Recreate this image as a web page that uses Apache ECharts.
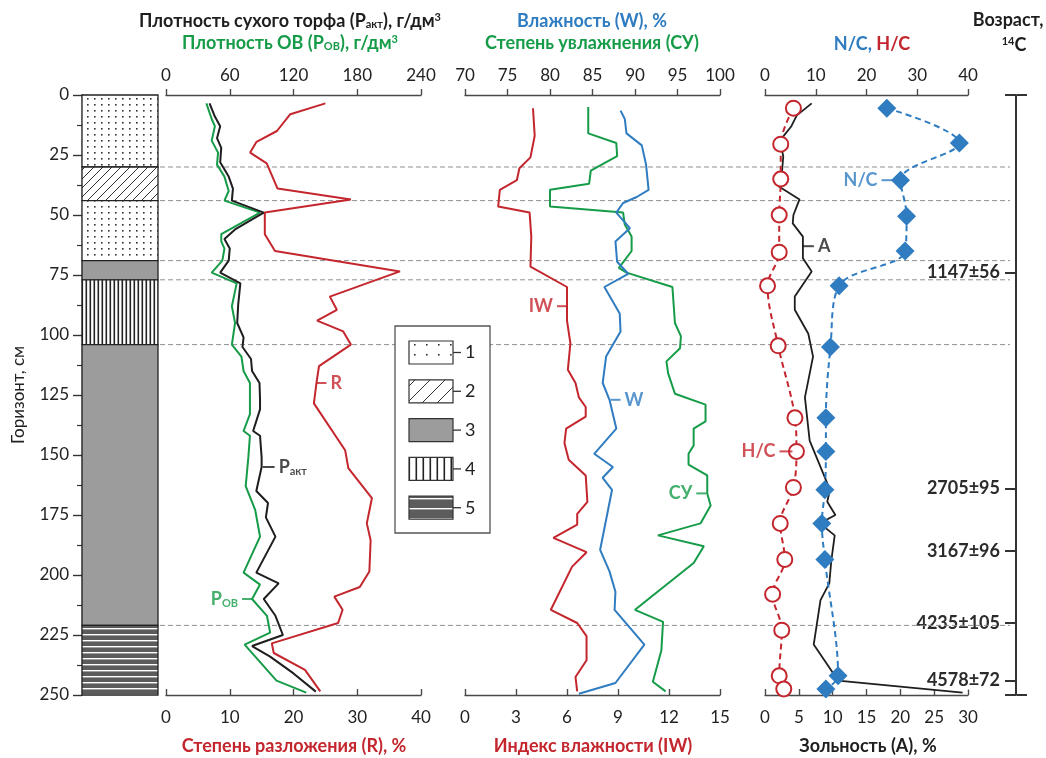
<!DOCTYPE html>
<html><head><meta charset="utf-8">
<script src="https://cdn.jsdelivr.net/npm/echarts@6/dist/echarts.min.js"></script>
<style>html,body{margin:0;padding:0;background:#fff}#c{width:1046px;height:758px}</style>
</head><body><div id="c"></div>
<script>
// ---------------- DATA ----------------
const depthMin = 0, depthMax = 250, depthStep = 25;
const layerTop    = [0, 30, 44, 69, 77, 104, 221];
const layerBottom = [30, 44, 69, 77, 104, 221, 250];
const layerType   = [1, 2, 1, 3, 4, 3, 5];
const boundaryDepth = [30, 44, 69, 77, 104, 221];
const legendTypes = [1, 2, 3, 4, 5];

const pactDepth = [3.5, 9, 13, 18, 22, 28, 34, 39, 44, 49, 56, 60, 64, 69, 74, 78.5, 87, 95, 101, 105, 110, 115, 120, 127, 131, 140, 142, 151, 155, 165, 170, 176, 184, 199, 203.5, 210, 217, 225, 229.6, 234, 241, 248.6];
const pactVal   = [41, 46, 51, 48, 52, 51, 59, 63, 62, 92, 65, 55, 60, 59, 51, 70, 68, 67, 73, 72, 80, 81, 88, 88.5, 88.5, 82, 88.5, 90, 90, 85, 96, 94, 103, 85, 106, 92, 103, 110, 81, 98, 120, 141];

const pobDepth = [3.5, 10, 13, 19, 24, 29, 34, 40, 44, 49, 58, 61, 64, 69, 74, 78.5, 88, 95, 104, 109, 115, 120, 127, 133, 140, 142, 151, 163, 173, 184, 199, 204, 210, 217, 224, 229, 244, 249];
const pobVal   = [38, 43, 46, 43, 49, 48, 55, 59, 55, 88.5, 52, 52, 55, 53, 43, 66.5, 62, 65, 62, 71, 73, 79, 79, 79, 73, 79, 77.5, 75, 84, 88.5, 73, 88.5, 81, 95, 98, 74, 104, 132];

const rDepth = [3.5, 8, 15, 19.5, 24, 28.5, 39, 43.5, 49, 58, 65, 73.5, 84, 89.5, 94, 98.5, 104, 113, 120, 128.5, 148, 155.5, 168, 178.5, 185.5, 198.5, 205, 209, 214.5, 220, 228.5, 232.5, 239.5, 248.5];
const rVal   = [25, 19.5, 17.4, 14.2, 13.2, 15.8, 17.5, 29, 15.5, 15.5, 17.1, 36.7, 25.7, 26.8, 23.7, 27.8, 29, 24, 23.6, 23.2, 28.1, 28.6, 32.3, 31.5, 32.1, 31.9, 30.4, 26.4, 27.7, 27, 16.6, 16.9, 21.8, 24.2];

const iwDepth = [5.5, 17, 26, 30.5, 35.5, 39.5, 46.5, 49, 59, 71.5, 80, 88, 94, 103.5, 114.5, 120, 126, 130, 134, 139, 145, 152, 158.5, 169.5, 174.5, 179, 184.5, 190.5, 196.5, 214.5, 220, 225.5, 235.5, 242.5, 248.5];
const iwVal   = [4.0, 4.1, 3.85, 3.2, 3.05, 2.05, 1.95, 3.8, 3.9, 3.85, 6.0, 6.0, 6.0, 6.2, 6.05, 6.5, 6.7, 7.1, 7.1, 5.95, 5.85, 6.1, 7.1, 7.2, 6.6, 6.6, 5.2, 7.15, 6.3, 5.05, 6.6, 7.15, 7.15, 6.5, 6.6];

const suDepth = [5, 16, 20, 25.5, 31.5, 37, 39.5, 46.5, 49, 54, 59, 65, 72, 74, 80, 95, 100.5, 105.5, 111, 116, 124.5, 129, 136, 139, 146, 149.5, 154, 158.5, 166, 171, 178.5, 183.5, 188, 195, 214.5, 219.5, 231.5, 244.5, 248.5];
const suVal   = [84.5, 84.5, 87.8, 87.9, 84.8, 84.6, 80, 80, 88.6, 88.8, 89.6, 89.6, 88.1, 89, 94.4, 94.7, 95.4, 95.3, 93.7, 93.9, 94.7, 98.3, 98.3, 96.9, 96.9, 96.3, 96.3, 98.5, 98.5, 98.9, 97.7, 92.7, 98.1, 96.9, 90, 93.3, 93.1, 92.1, 93.6];

const wDepth = [6.5, 10, 16, 21, 29, 39.5, 42.5, 45, 49, 55.5, 61, 69.5, 74.5, 80, 91, 98.5, 109, 120, 127, 139, 149.5, 155, 159.5, 164.5, 189.5, 198.5, 207, 214.5, 229, 245, 249.5];
const wVal   = [88.3, 88.8, 89, 90.8, 91.3, 91.6, 90.2, 88.6, 87.8, 89.4, 87.7, 87.9, 89.2, 86.4, 88.2, 88.3, 86.6, 86.2, 87, 87.8, 85.2, 87.4, 86.2, 87.3, 85.9, 87, 87.7, 87.6, 91.1, 87.7, 83.4];

const hcDepth = [5.5, 20.5, 35, 50, 65.5, 79.5, 104.5, 134.5, 148.5, 163.5, 178.5, 193.5, 208, 223, 242, 247.5];
const hcVal   = [5.6, 3.1, 3.1, 2.8, 2.8, 0.5, 2.6, 5.9, 6.2, 5.6, 3.0, 3.9, 1.5, 3.3, 2.8, 3.7];

const ncDepth = [5.5, 20, 35.5, 50.5, 65, 79.5, 105, 134.5, 148.5, 164.5, 178.5, 193.5, 242, 247.5];
const ncVal   = [24.0, 38.3, 26.7, 27.9, 27.6, 14.6, 12.9, 12.0, 12.0, 11.8, 11.2, 11.8, 14.4, 12.0];

const aDepth = [3.5, 8.5, 13, 19, 25.5, 32.5, 38, 43.5, 50, 53.5, 59, 63, 68, 73.5, 84, 89.5, 99.5, 109, 126, 144, 164.5, 169.5, 175, 178.5, 183.5, 194, 203.5, 210.5, 229, 244, 249];
const aVal   = [6.9, 4.7, 3.9, 2.2, 2.7, 2.5, 2.0, 5.1, 4.2, 4.1, 5.6, 5.6, 5.6, 6.9, 4.4, 4.4, 6.4, 7.1, 5.9, 6.6, 9.6, 9.2, 10.4, 8.1, 10.3, 9.8, 9.5, 8.2, 7.2, 10.8, 29.2];

const ageDepth = [74, 164, 190, 220, 244];
const ageLabel = ['1147±56', '2705±95', '3167±96', '4235±105', '4578±72'];

// ---------------- STYLE ----------------
const FONT = 'Lato, "Open Sans", sans-serif';
const RED = '#c4262e', GREEN = '#169c48', BLUE = '#2f7cc1', BLACK = '#1e1e1e', AX = '#4a4a4a';

// scale: 1 = column, 1.7 = legend swatches (coarser, as in the reference)
function makePattern(t, k) {
  const c = document.createElement('canvas');
  let ctx;
  if (t === 1) {
    const w = Math.round(7 * k), h = Math.round(6 * k);
    c.width = w; c.height = h; ctx = c.getContext('2d');
    ctx.fillStyle = '#fff'; ctx.fillRect(0, 0, w, h);
    ctx.fillStyle = '#333'; ctx.fillRect(Math.floor(w / 2), Math.floor(h / 2) - 1, 1.6, 1.6);
  } else if (t === 2) {
    const s = Math.round(9 * k);
    c.width = s; c.height = s; ctx = c.getContext('2d');
    ctx.fillStyle = '#fff'; ctx.fillRect(0, 0, s, s);
    ctx.strokeStyle = '#333'; ctx.lineWidth = 1;
    ctx.beginPath();
    ctx.moveTo(-1, s + 1); ctx.lineTo(s + 1, -1);
    ctx.moveTo(-1, 1); ctx.lineTo(1, -1);
    ctx.moveTo(s - 1, s + 1); ctx.lineTo(s + 1, s - 1);
    ctx.stroke();
  } else if (t === 3) {
    c.width = 4; c.height = 4; ctx = c.getContext('2d');
    ctx.fillStyle = '#9c9c9c'; ctx.fillRect(0, 0, 4, 4);
  } else if (t === 4) {
    const w = Math.round(4 * k);
    c.width = w; c.height = 4; ctx = c.getContext('2d');
    ctx.fillStyle = '#fff'; ctx.fillRect(0, 0, w, 4);
    ctx.fillStyle = '#222'; ctx.fillRect(Math.floor(w / 2) - 0.5, 0, 1.6, 4);
  } else {
    const h = Math.round(6 * k);
    c.width = 4; c.height = h; ctx = c.getContext('2d');
    ctx.fillStyle = '#5c5c5c'; ctx.fillRect(0, 0, 4, h);
    ctx.fillStyle = '#fff'; ctx.fillRect(0, h - 2, 4, 1.4);
  }
  return c;
}
const patterns = {}, legendPatterns = {};
[1, 2, 3, 4, 5].forEach(t => { patterns[t] = makePattern(t, 1); legendPatterns[t] = makePattern(t, 1.7); });
const pat = t => ({ image: patterns[t], repeat: 'repeat' });
const lpat = t => ({ image: legendPatterns[t], repeat: 'repeat' });

const pairs = (xs, ds) => ds.map((d, i) => [xs[i], d]);

const gridBase = { top: 95, height: 600, outerBoundsMode: 'none', containLabel: false };
const grids = [
  Object.assign({ left: 82, width: 76 }, gridBase),
  Object.assign({ left: 166, width: 255 }, gridBase),
  Object.assign({ left: 465, width: 255 }, gridBase),
  Object.assign({ left: 765, width: 203 }, gridBase),
  Object.assign({ left: 1016, width: 1 }, gridBase),
  Object.assign({ left: 160, width: 850 }, gridBase)
];

const hiddenX = g => ({ type: 'value', gridIndex: g, min: 0, max: 1, show: false });
function topAxis(g, min, max, step) {
  return {
    type: 'value', gridIndex: g, position: 'top', min: min, max: max, interval: step,
    axisLine: { show: true, lineStyle: { color: AX, width: 1.4 } },
    axisTick: { show: true, length: 6, lineStyle: { color: AX, width: 1.4 } },
    axisLabel: { margin: 11, fontSize: 17, color: '#222', fontFamily: FONT },
    splitLine: { show: false }
  };
}
function bottomAxis(g, min, max, step) {
  return {
    type: 'value', gridIndex: g, position: 'bottom', min: min, max: max, interval: step,
    axisLine: { show: true, lineStyle: { color: AX, width: 1.4 } },
    axisTick: { show: true, inside: true, length: 6, lineStyle: { color: AX, width: 1.4 } },
    axisLabel: { margin: 14, fontSize: 17, color: '#222', fontFamily: FONT },
    splitLine: { show: false }
  };
}
const hiddenY = g => ({ type: 'value', gridIndex: g, min: depthMin, max: depthMax, inverse: true, show: false });

const xAxes = [
  hiddenX(0),
  topAxis(1, 0, 240, 60), bottomAxis(1, 0, 40, 10),
  topAxis(2, 70, 100, 5), bottomAxis(2, 0, 15, 3),
  topAxis(3, 0, 40, 10), bottomAxis(3, 0, 30, 5),
  hiddenX(4), hiddenX(5)
];
const yAxes = [
  {
    type: 'value', gridIndex: 0, min: depthMin, max: depthMax, interval: depthStep, inverse: true, position: 'left',
    axisLine: { show: true, lineStyle: { color: '#333', width: 1.4 } },
    axisTick: { show: true, length: 9, lineStyle: { color: '#333', width: 1.4 } },
    minorTick: { show: true, splitNumber: 2, length: 5, lineStyle: { color: '#333', width: 1.2 } },
    axisLabel: { margin: 13, fontSize: 17, color: '#222', fontFamily: FONT },
    splitLine: { show: false }
  },
  hiddenY(1), hiddenY(2), hiddenY(3),
  {
    type: 'value', gridIndex: 4, min: depthMin, max: depthMax, inverse: true, position: 'left',
    axisLine: { show: true, lineStyle: { color: '#333', width: 2 } },
    axisTick: { show: true, length: 11, customValues: [depthMin].concat(ageDepth, [depthMax]), lineStyle: { color: '#333', width: 2 } },
    axisLabel: {
      show: true, customValues: ageDepth, margin: 14, fontSize: 18, fontWeight: 'bold', color: '#2b2b2b', fontFamily: FONT,
      backgroundColor: '#fff', padding: [0, 2],
      formatter: v => ageLabel[ageDepth.indexOf(v)]
    },
    splitLine: { show: false }
  },
  {
    type: 'value', gridIndex: 4, min: depthMin, max: depthMax, inverse: true, position: 'right',
    axisLine: { show: false },
    axisTick: { show: true, length: 10, customValues: [depthMin, depthMax], lineStyle: { color: '#333', width: 2 } },
    axisLabel: { show: false }, splitLine: { show: false }
  },
  hiddenY(5)
];

function lineSeries(name, xi, yi, xs, ds, color, extra) {
  return Object.assign({
    name: name, type: 'line', xAxisIndex: xi, yAxisIndex: yi, data: pairs(xs, ds),
    showSymbol: false, symbol: 'none', silent: true, animation: false,
    lineStyle: { color: color, width: 2 }, z: 3
  }, extra || {});
}

function annot(xi, yi, xs, ds, depth, color, side, lead, gap, text, rich) {
  const i = ds.indexOf(depth);
  return {
    type: 'scatter', xAxisIndex: xi, yAxisIndex: yi, silent: true, animation: false, z: 6,
    data: [[xs[i], ds[i]]],
    symbol: 'rect', symbolSize: [lead, 2], symbolOffset: [side * (gap + lead / 2), 0],
    itemStyle: { color: color },
    label: {
      show: true, position: side > 0 ? 'right' : 'left', distance: 4,
      formatter: text, color: color, fontSize: 18, fontWeight: 'bold', fontFamily: FONT,
      rich: rich || {}
    }
  };
}
const subRich = color => ({
  b: { fontSize: 18, fontWeight: 'bold', color: color, fontFamily: FONT, lineHeight: 22, verticalAlign: 'middle' },
  s: { fontSize: 11, fontWeight: 'bold', color: color, fontFamily: FONT, lineHeight: 22, verticalAlign: 'bottom', padding: [0, 0, 1, 0] }
});

const series = [
  {
    type: 'custom', xAxisIndex: 8, yAxisIndex: 6, silent: true, animation: false, z: 1,
    data: boundaryDepth.map(d => [d]),
    renderItem: function (params, api) {
      const d = api.value(0);
      const p1 = api.coord([0, d]), p2 = api.coord([1, d]);
      return { type: 'line', shape: { x1: p1[0], y1: p1[1], x2: p2[0], y2: p2[1] },
        style: { stroke: '#8f8f8f', lineWidth: 1, lineDash: [5, 3] } };
    }
  },
  {
    type: 'custom', xAxisIndex: 0, yAxisIndex: 0, silent: true, animation: false, z: 2,
    data: layerTop.map((t, i) => [t, layerBottom[i], layerType[i]]),
    renderItem: function (params, api) {
      const p1 = api.coord([0, api.value(0)]), p2 = api.coord([1, api.value(1)]);
      return { type: 'rect', shape: { x: p1[0], y: p1[1], width: p2[0] - p1[0], height: p2[1] - p1[1] },
        style: { fill: pat(api.value(2)), stroke: '#222', lineWidth: 1.3 } };
    }
  },
  lineSeries('R', 2, 1, rVal, rDepth, RED),
  lineSeries('Pob', 1, 1, pobVal, pobDepth, GREEN),
  lineSeries('Pact', 1, 1, pactVal, pactDepth, BLACK),
  lineSeries('IW', 4, 2, iwVal, iwDepth, RED),
  lineSeries('СУ', 3, 2, suVal, suDepth, GREEN),
  lineSeries('W', 3, 2, wVal, wDepth, BLUE),
  lineSeries('A', 6, 3, aVal, aDepth, BLACK, { lineStyle: { color: BLACK, width: 1.8 } }),
  lineSeries('N/C', 5, 3, ncVal, ncDepth, BLUE, {
    showSymbol: true, symbol: 'diamond', symbolSize: 19, smooth: 0.35,
    itemStyle: { color: BLUE }, lineStyle: { color: BLUE, width: 2, type: [6, 4] }, z: 4
  }),
  lineSeries('H/C', 5, 3, hcVal, hcDepth, RED, {
    showSymbol: true, symbol: 'circle', symbolSize: 15, smooth: 0.35,
    itemStyle: { color: '#fff', borderColor: RED, borderWidth: 2 }, lineStyle: { color: RED, width: 2, type: [6, 4] }, z: 4
  }),
  annot(2, 1, rVal, rDepth, 120, RED, 1, 10, 0, 'R'),
  annot(1, 1, pactVal, pactDepth, 155, BLACK, 1, 12, 1, '{b|P}{s|акт}', subRich(BLACK)),
  annot(1, 1, pobVal, pobDepth, 210, GREEN, -1, 10, 0, '{b|P}{s|OB}', subRich(GREEN)),
  annot(4, 2, iwVal, iwDepth, 88, RED, -1, 10, 0, 'IW'),
  annot(3, 2, wVal, wDepth, 127, BLUE, 1, 10, 1, 'W'),
  annot(3, 2, suVal, suDepth, 166, GREEN, -1, 10, 1, 'СУ'),
  annot(6, 3, aVal, aDepth, 63, BLACK, 1, 11, 0, 'A'),
  annot(5, 3, ncVal, ncDepth, 35.5, BLUE, -1, 15, 4, 'N/C'),
  annot(5, 3, hcVal, hcDepth, 148.5, RED, -1, 13, 4, 'H/C')
];

// ---------------- GRAPHICS (titles, legend) ----------------
const titleRich = color => ({
  t: { fontSize: 18, fontWeight: 'bold', fill: color, fontFamily: FONT, lineHeight: 24, verticalAlign: 'middle' },
  s: { fontSize: 11, fontWeight: 'bold', fill: color, fontFamily: FONT, lineHeight: 24, verticalAlign: 'bottom', padding: [0, 0, 3, 0] },
  p: { fontSize: 11, fontWeight: 'bold', fill: color, fontFamily: FONT, lineHeight: 24, verticalAlign: 'top', padding: [3, 0, 0, 0] }
});
function gText(x, y, text, color, rich, extra) {
  return Object.assign({
    type: 'text', x: x, y: y, silent: true, z: 20,
    style: { text: text, rich: rich, align: 'center', verticalAlign: 'middle',
      font: 'bold 18px ' + FONT, fill: color }
  }, extra || {});
}
const graphics = [
  gText(290, 21, '{t|Плотность сухого торфа (P}{s|акт}{t|), г/дм}{p|3}', BLACK, titleRich(BLACK)),
  gText(290, 43, '{t|Плотность ОВ (P}{s|ОВ}{t|), г/дм}{p|3}', GREEN, titleRich(GREEN)),
  gText(592, 21, '{t|Влажность (W), %}', BLUE, titleRich(BLUE)),
  gText(592, 43, '{t|Степень увлажнения (СУ)}', GREEN, titleRich(GREEN)),
  gText(872, 44, '{b|N/C, }{r|H/C}', BLUE, {
    b: { fontSize: 18, fontWeight: 'bold', fill: BLUE, fontFamily: FONT },
    r: { fontSize: 18, fontWeight: 'bold', fill: RED, fontFamily: FONT }
  }),
  gText(1008, 20, '{t|Возраст,}', BLACK, titleRich(BLACK)),
  gText(1014, 45, '{p|14}{t|C}', BLACK, titleRich(BLACK)),
  gText(294, 746, '{t|Степень разложения (R), %}', RED, titleRich(RED)),
  gText(593, 746, '{t|Индекс влажности (IW)}', RED, titleRich(RED)),
  gText(868, 746, '{t|Зольность (A), %}', BLACK, titleRich(BLACK)),
  {
    type: 'text', x: 19, y: 395, rotation: Math.PI / 2, silent: true, z: 20,
    style: { text: 'Горизонт, см', align: 'center', verticalAlign: 'middle', font: '17px ' + FONT, fill: '#222' }
  },
  {
    type: 'rect', shape: { x: 395, y: 326, width: 95, height: 207 }, silent: true, z: 30,
    style: { fill: '#fff', stroke: '#555', lineWidth: 1.3 }
  }
];
legendTypes.forEach((t, i) => {
  const y = 341 + i * 38.8;
  graphics.push({
    type: 'rect', shape: { x: 409, y: y, width: 44, height: 23 }, silent: true, z: 31,
    style: { fill: lpat(t), stroke: '#333', lineWidth: 1.2 }
  });
  graphics.push({
    type: 'line', shape: { x1: 453, y1: y + 11.5, x2: 461, y2: y + 11.5 }, silent: true, z: 31,
    style: { stroke: '#333', lineWidth: 1.3 }
  });
  graphics.push({
    type: 'text', x: 465, y: y + 11.5, silent: true, z: 31,
    style: { text: String(t), align: 'left', verticalAlign: 'middle', font: '18px ' + FONT, fill: '#222' }
  });
});

const chart = echarts.init(document.getElementById('c'), null, { renderer: 'canvas' });
chart.setOption({
  animation: false,
  backgroundColor: '#fff',
  textStyle: { fontFamily: FONT },
  grid: grids,
  xAxis: xAxes,
  yAxis: yAxes,
  series: series,
  graphic: graphics
});
</script></body></html>
